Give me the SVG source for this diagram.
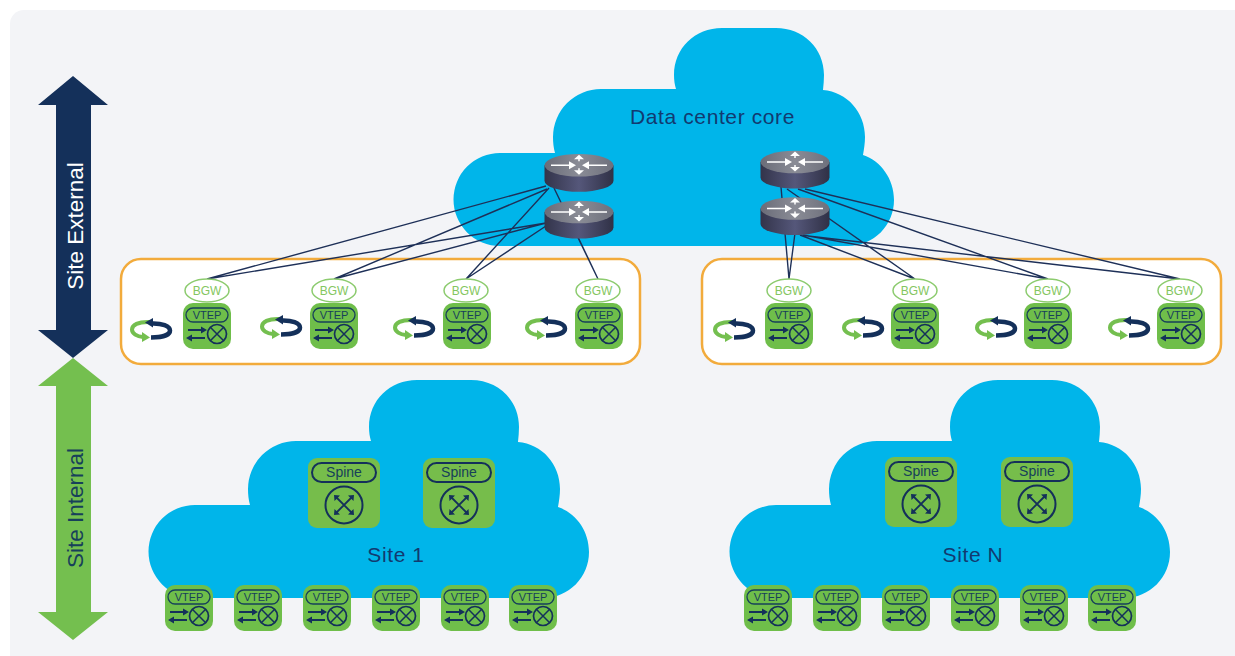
<svg xmlns="http://www.w3.org/2000/svg" width="1235" height="656" viewBox="0 0 1235 656">
<style>
text{font-family:"Liberation Sans",Arial,sans-serif;text-anchor:middle}
.cloud{fill:#00b5ea}
.panel{fill:#fff;stroke:#f2ab3c;stroke-width:2.500}
.link{stroke:#1e3058;stroke-width:1.400;fill:none}
.bgw{fill:#fff;stroke:#8ccb6e;stroke-width:1.500}
.tb{font-size:12px;fill:#84c660}
.tv{font-size:11px;fill:#17405a}
.ts{font-size:14px;fill:#17405a}
.tc{font-size:21px;fill:#123a70;letter-spacing:.6px}
.tl{font-size:22.500px}
.d{stroke:#14305a;fill:none}
</style>
<defs>
<path id="cl" d="M500 246A46.500 46.500 0 0 1 500 153H555C553.500 148 553 142 553 137A48 48 0 0 1 601 89H676C674.700 85 674 80 674 75C674 48 695 28 722 28H776C803 28 824 48 824 75C824 80 823.500 85 823 90C847 92 865 112 865 137C865 143 864 149 863 155C881 161 894 179 894 200C894 225 874 246 848 246Z"/>
<linearGradient id="side" x1="0" x2="1" y1="0" y2="0"><stop offset="0" stop-color="#33344a"/><stop offset=".5" stop-color="#55577a"/><stop offset="1" stop-color="#303146"/></linearGradient>
<linearGradient id="top" x1="0" x2="1" y1="0" y2="0"><stop offset="0" stop-color="#6a6c78"/><stop offset=".5" stop-color="#8a8c96"/><stop offset="1" stop-color="#6e707c"/></linearGradient>
<g id="router">
<path d="M-34.500 0V15.500A34.500 11 0 0 0 34.500 15.500V0Z" fill="url(#side)"/>
<ellipse rx="34.500" ry="11.300" fill="url(#top)"/>
<path d="M-28 0H-8M28 0H8M0-9V-4M0 3V8" fill="none" stroke="#fff" stroke-width="1.500"/>
<path fill="#fff" d="M-10-4L-3 0L-10 4ZM10-4L3 0L10 4ZM-5-6L0-10.500L5-6ZM-5 5L0 9.500L5 5Z"/>
</g>
<g id="vtep">
<rect width="48" height="46" rx="10" fill="#6fbe4a"/>
<rect x="3" y="5" width="42" height="14" rx="7" fill="none" stroke="#17405a" stroke-width="1.300"/>
<path class="d" stroke-width="1.800" d="M5 27H20M6 35H22"/>
<path fill="#14305a" d="M18 23.500L24 27L18 30.500ZM9 31.500L3 35L9 38.500Z"/>
<circle cx="34" cy="31" r="9.500" class="d" stroke-width="1.700"/>
<path class="d" stroke-width="1.500" d="M27.300 24.300L40.700 37.700M40.700 24.300L27.300 37.700"/>
</g>
<g id="spine">
<rect width="72" height="70" rx="9" fill="#76bd4b"/>
<rect x="4" y="5" width="64" height="19" rx="9.500" fill="none" stroke="#14305a" stroke-width="2"/>
<circle cx="36" cy="47" r="18.500" class="d" stroke-width="2"/>
<path class="d" stroke-width="1.800" d="M28 39L44 55M44 39L28 55"/>
<path fill="#14305a" d="M26 37L32 37.500L26.500 43ZM46 37L40 37.500L45.500 43ZM26 57L32 56.500L26.500 51ZM46 57L40 56.500L45.500 51Z"/>
</g>
<g id="loop">
<path d="M20 4C8 3.500 2 7 2 11.500C2 15.500 7 18.500 13 19" fill="none" stroke="#74bf4f" stroke-width="4"/>
<path d="M12 14L20 19.500L12 24Z" fill="#74bf4f"/>
<path d="M21 5.500C32 5 40 8 40 12.500C40 17 32 19.500 21 19.500" fill="none" stroke="#14305a" stroke-width="4.500"/>
<path d="M23 0L15 4.500L23 9.500Z" fill="#14305a"/>
</g>
</defs>
<rect x="10" y="10" width="1240" height="660" rx="14" fill="#f3f4f7"/>
<g id="arrow-external"><path fill="#14305a" d="M73 76L108 105H91V330H108L73 358L38 330H56V105H38Z"/><text class="tl" transform="translate(82.500 226) rotate(-90)" fill="#fff">Site External</text></g>
<g id="arrow-internal"><path fill="#74bf4f" d="M73 358L108 386H91V612H108L73 640L38 612H56V386H38Z"/><text class="tl" transform="translate(82.500 508) rotate(-90)" fill="#17405a">Site Internal</text></g>
<g id="cloud-core"><use href="#cl" class="cloud"/><text x="712.500" y="124" class="tc">Data center core</text></g>
<g id="cloud-site1"><use href="#cl" class="cloud" transform="translate(-305 352)"/><text x="396" y="562" class="tc">Site 1</text></g>
<g id="cloud-siteN"><use href="#cl" class="cloud" transform="translate(276 352)"/><text x="973" y="562" class="tc">Site N</text></g>
<rect id="panel-left" class="panel" x="121" y="259" width="519" height="105" rx="20"/>
<rect id="panel-right" class="panel" x="702" y="259" width="519" height="105" rx="20"/>
<g id="connectors">
<path class="link" d="M207 279L546 186M207 279L546 223M334 279L547 189M334 279L546 223M466 279L549 188M466 279L546 226M598 279L554 188M598 279L578 237"/>
<path class="link" d="M789 279L781 187M789 279L795 233M915 279L787 189M915 279L800 235M1048 279L798 189M1048 279L803 235M1180 279L805 189M1180 279L808 236"/>
</g>
<g id="router-l1" transform="translate(579 165.300)"><use href="#router"/></g>
<g id="router-l2" transform="translate(579 212)"><use href="#router"/></g>
<g id="router-r1" transform="translate(795 162)"><use href="#router"/></g>
<g id="router-r2" transform="translate(795 208.500)"><use href="#router"/></g>
<g id="bgw-l1"><ellipse class="bgw" cx="207" cy="290.500" rx="22" ry="11.500"/><text class="tb" x="207" y="295">BGW</text></g>
<g id="bgw-l2"><ellipse class="bgw" cx="334" cy="290.500" rx="22" ry="11.500"/><text class="tb" x="334" y="295">BGW</text></g>
<g id="bgw-l3"><ellipse class="bgw" cx="466" cy="290.500" rx="22" ry="11.500"/><text class="tb" x="466" y="295">BGW</text></g>
<g id="bgw-l4"><ellipse class="bgw" cx="598" cy="290.500" rx="22" ry="11.500"/><text class="tb" x="598" y="295">BGW</text></g>
<g id="bgw-r1"><ellipse class="bgw" cx="789" cy="290.500" rx="22" ry="11.500"/><text class="tb" x="789" y="295">BGW</text></g>
<g id="bgw-r2"><ellipse class="bgw" cx="915" cy="290.500" rx="22" ry="11.500"/><text class="tb" x="915" y="295">BGW</text></g>
<g id="bgw-r3"><ellipse class="bgw" cx="1048" cy="290.500" rx="22" ry="11.500"/><text class="tb" x="1048" y="295">BGW</text></g>
<g id="bgw-r4"><ellipse class="bgw" cx="1180" cy="290.500" rx="22" ry="11.500"/><text class="tb" x="1180" y="295">BGW</text></g>
<g id="vtep-l1" transform="translate(183 303)"><use href="#vtep"/><text class="tv" x="24" y="16">VTEP</text></g>
<g id="vtep-l2" transform="translate(310 303)"><use href="#vtep"/><text class="tv" x="24" y="16">VTEP</text></g>
<g id="vtep-l3" transform="translate(443 303)"><use href="#vtep"/><text class="tv" x="24" y="16">VTEP</text></g>
<g id="vtep-l4" transform="translate(575 303)"><use href="#vtep"/><text class="tv" x="24" y="16">VTEP</text></g>
<g id="vtep-r1" transform="translate(765 303)"><use href="#vtep"/><text class="tv" x="24" y="16">VTEP</text></g>
<g id="vtep-r2" transform="translate(891 303)"><use href="#vtep"/><text class="tv" x="24" y="16">VTEP</text></g>
<g id="vtep-r3" transform="translate(1024 303)"><use href="#vtep"/><text class="tv" x="24" y="16">VTEP</text></g>
<g id="vtep-r4" transform="translate(1157 303)"><use href="#vtep"/><text class="tv" x="24" y="16">VTEP</text></g>
<use id="loop-l1" href="#loop" x="130" y="318"/>
<use id="loop-l2" href="#loop" x="260" y="315"/>
<use id="loop-l3" href="#loop" x="393" y="316"/>
<use id="loop-l4" href="#loop" x="525" y="316"/>
<use id="loop-r1" href="#loop" x="713" y="318"/>
<use id="loop-r2" href="#loop" x="842" y="316"/>
<use id="loop-r3" href="#loop" x="975" y="316"/>
<use id="loop-r4" href="#loop" x="1108" y="316"/>
<g id="spine-1a" transform="translate(308 458)"><use href="#spine"/><text class="ts" x="36" y="18.500">Spine</text></g>
<g id="spine-1b" transform="translate(423 458)"><use href="#spine"/><text class="ts" x="36" y="18.500">Spine</text></g>
<g id="spine-na" transform="translate(885 457)"><use href="#spine"/><text class="ts" x="36" y="18.500">Spine</text></g>
<g id="spine-nb" transform="translate(1001 457)"><use href="#spine"/><text class="ts" x="36" y="18.500">Spine</text></g>
<g id="vtep-a1" transform="translate(165 585)"><use href="#vtep"/><text class="tv" x="24" y="16">VTEP</text></g>
<g id="vtep-a2" transform="translate(234 585)"><use href="#vtep"/><text class="tv" x="24" y="16">VTEP</text></g>
<g id="vtep-a3" transform="translate(303 585)"><use href="#vtep"/><text class="tv" x="24" y="16">VTEP</text></g>
<g id="vtep-a4" transform="translate(372 585)"><use href="#vtep"/><text class="tv" x="24" y="16">VTEP</text></g>
<g id="vtep-a5" transform="translate(441 585)"><use href="#vtep"/><text class="tv" x="24" y="16">VTEP</text></g>
<g id="vtep-a6" transform="translate(509 585)"><use href="#vtep"/><text class="tv" x="24" y="16">VTEP</text></g>
<g id="vtep-b1" transform="translate(744 585)"><use href="#vtep"/><text class="tv" x="24" y="16">VTEP</text></g>
<g id="vtep-b2" transform="translate(813 585)"><use href="#vtep"/><text class="tv" x="24" y="16">VTEP</text></g>
<g id="vtep-b3" transform="translate(882 585)"><use href="#vtep"/><text class="tv" x="24" y="16">VTEP</text></g>
<g id="vtep-b4" transform="translate(951 585)"><use href="#vtep"/><text class="tv" x="24" y="16">VTEP</text></g>
<g id="vtep-b5" transform="translate(1020 585)"><use href="#vtep"/><text class="tv" x="24" y="16">VTEP</text></g>
<g id="vtep-b6" transform="translate(1088 585)"><use href="#vtep"/><text class="tv" x="24" y="16">VTEP</text></g>
</svg>
